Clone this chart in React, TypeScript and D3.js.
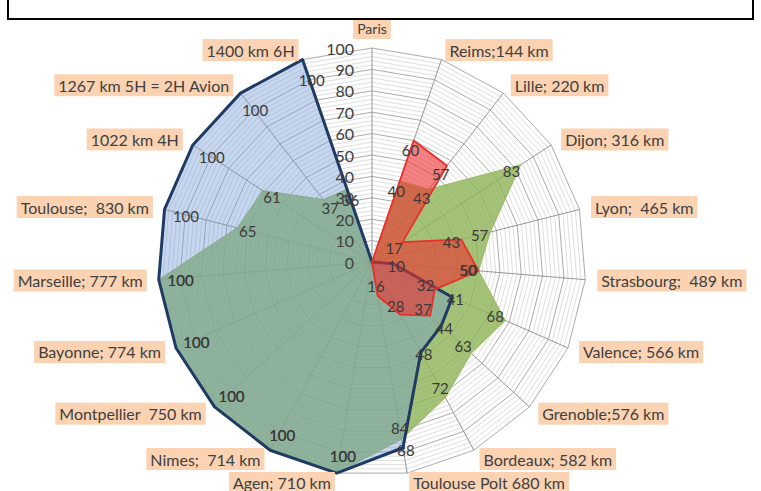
import React, { useEffect, useRef } from 'react';
import * as d3 from 'd3';

// categories clockwise from the top
const categories = [
    'Paris', 'Reims;144 km', 'Lille; 220 km', 'Dijon; 316 km', 'Lyon;  465 km',
    'Strasbourg;  489 km', 'Valence; 566 km', 'Grenoble;576 km', 'Bordeaux; 582 km',
    'Toulouse Polt 680 km', 'Agen; 710 km', 'Nimes;  714 km', 'Montpellier  750 km',
    'Bayonne; 774 km', 'Marseille; 777 km', 'Toulouse;  830 km', '1022 km 4H',
    '1267 km 5H = 2H Avion', '1400 km 6H',
];

const blueValues = [0, 0, 0, 0, 0, 10, 41, 44, 48, 88, 100, 100, 100, 100, 100, 100, 100, 100, 100];
const greenValues = [0, 40, 43, 83, 57, 50, 68, 63, 72, 84, 100, 100, 100, 100, 100, 65, 61, 37, 36];
const redValues = [0, 60, 57, 17, 43, 50, 32, 37, 28, 16, 0, 0, 0, 0, 0, 0, 0, 0, 0];

const axisTicks = [0, 10, 20, 30, 40, 50, 60, 70, 80, 90, 100];

const FONT = "Lato, 'Open Sans', sans-serif";

const App: React.FC = () => {
    const svgRef = useRef<SVGSVGElement | null>(null);

    useEffect(() => {
        const width = 761, height = 491;
        const cx = 372, cy = 262, R = 214;
        const n = categories.length;

        const svg = d3.select(svgRef.current);
        svg.selectAll('*').remove();
        svg.attr('width', width).attr('height', height);

        const rScale = d3.scaleLinear().domain([0, 100]).range([0, R]);
        const angle = (i: number) => (i * 2 * Math.PI) / n;
        const polar = (i: number, rad: number): [number, number] => [
            cx + rad * Math.sin(angle(i)),
            cy - rad * Math.cos(angle(i)),
        ];

        const g = svg.append('g').attr('transform', `translate(${cx},${cy})`);

        const radial = d3
            .lineRadial<number>()
            .angle((_, i) => angle(i))
            .radius((d) => rScale(d))
            .curve(d3.curveLinearClosed);

        // fine rings (minor unit = 2), then major rings every 10
        d3.range(2, 101, 2).forEach((v) => {
            const major = v % 10 === 0;
            g.append('path')
                .datum(categories.map(() => v))
                .attr('d', radial)
                .attr('fill', 'none')
                .attr('stroke', major ? '#a0a0a0' : '#c8c8c8')
                .attr('stroke-width', major ? 0.9 : 0.6);
        });

        // spokes
        categories.forEach((_, i) => {
            const [x, y] = polar(i, R);
            g.append('line')
                .attr('x1', 0).attr('y1', 0)
                .attr('x2', x - cx).attr('y2', y - cy)
                .attr('stroke', '#8a8a8a')
                .attr('stroke-width', 0.9);
        });

        const series = [
            { values: greenValues, fill: 'rgb(142,180,86)', opacity: 0.8, stroke: 'rgb(150,185,95)', sw: 1, inset: 11 },
            { values: blueValues, fill: 'rgb(110,152,212)', opacity: 0.4, stroke: '#1f3a63', sw: 3, inset: 0 },
            { values: redValues, fill: 'rgb(238,47,47)', opacity: 0.6, stroke: '#e8302a', sw: 1.8, inset: 10 },
        ];

        series.forEach((s) => {
            g.append('path')
                .datum(s.values)
                .attr('d', radial)
                .attr('fill', s.fill)
                .attr('fill-opacity', s.opacity)
                .attr('stroke', s.stroke)
                .attr('stroke-width', s.sw)
                .attr('stroke-linejoin', 'round');
        });

        // axis labels along Paris spoke
        axisTicks.forEach((t) => {
            svg.append('text')
                .attr('x', cx - 18)
                .attr('y', cy - rScale(t))
                .attr('text-anchor', 'end')
                .attr('dominant-baseline', 'central')
                .attr('font-family', FONT)
                .attr('font-size', 16)
                .attr('fill', '#404040')
                .text(t);
        });

        // data labels (points near the rim get pulled inside)
        series.forEach((s) => {
            s.values.forEach((v, i) => {
                if (v === 0) return;
                let x: number, y: number;
                if (s.inset > 0 && v < 90) {
                    [x, y] = polar(i, rScale(v) - s.inset);
                } else {
                    [x, y] = polar(i, Math.min(rScale(v), R - 19));
                    x += 3;
                    y += 2;
                }
                svg.append('text')
                    .attr('x', x)
                    .attr('y', y)
                    .attr('text-anchor', 'middle')
                    .attr('dominant-baseline', 'central')
                    .attr('font-family', FONT)
                    .attr('font-size', 15)
                    .attr('fill', '#3a3a3a')
                    .text(v);
            });
        });

        // category labels with tan boxes
        categories.forEach((c, i) => {
            const s = Math.sin(angle(i));
            const co = Math.cos(angle(i));
            const [ex, ey] = polar(i, R);
            let anchor = 'middle';
            let tx = ex;
            let ty = ey - co * 10;
            if (Math.abs(s) < 0.05) {
                ty = ey - 20;
            } else if (s > 0) {
                anchor = 'start';
                tx = ex + s * 12 + 4;
            } else {
                anchor = 'end';
                tx = ex + s * 12 - 4;
            }
            const lg = svg.append('g');
            const rect = lg.append('rect').attr('fill', '#fbd3b2');
            const text = lg.append('text')
                .attr('x', tx)
                .attr('y', ty)
                .attr('text-anchor', anchor)
                .attr('dominant-baseline', 'central')
                .attr('font-family', FONT)
                .attr('font-size', i === 0 ? 14 : 16)
                .attr('fill', '#404040')
                .style('white-space', 'pre')
                .text(c);
            const bb = (text.node() as SVGTextElement).getBBox();
            rect.attr('x', bb.x - 4).attr('y', ty - 11)
                .attr('width', bb.width + 8).attr('height', 22);
        });

        // title frame, cut off at top
        svg.append('rect')
            .attr('x', 8).attr('y', -4)
            .attr('width', 745).attr('height', 23)
            .attr('fill', '#fff')
            .attr('stroke', '#000')
            .attr('stroke-width', 2);
    }, []);

    return <svg ref={svgRef} style={{ position: 'absolute', left: 0, top: 0, background: '#fff' }}></svg>;
};

export default App;
